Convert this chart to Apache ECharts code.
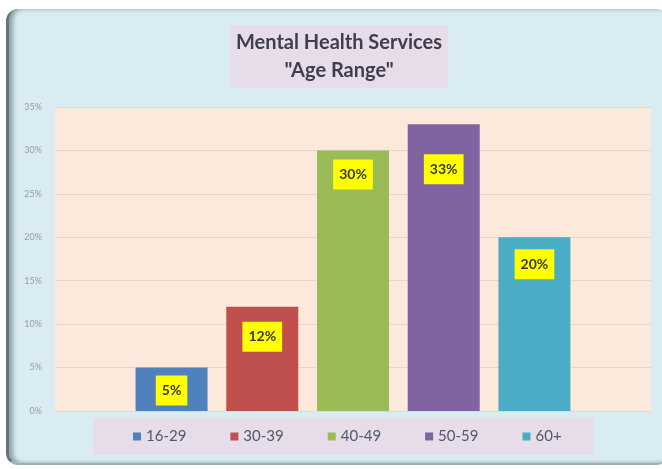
<!DOCTYPE html>
<html>
<head>
<meta charset="utf-8">
<script src="https://cdn.jsdelivr.net/npm/echarts@6/dist/echarts.min.js"></script>
<style>
  html, body { margin: 0; padding: 0; background: #ffffff; }
  #wrap { position: relative; width: 662px; height: 469px; overflow: hidden; background: #ffffff; }
  #frame {
    position: absolute; left: 6px; top: 9px; width: 662px; height: 456px;
    background: #d9ecf1; border-radius: 12px;
    border-left: 3px solid #62757c; border-bottom: 2px solid #9fb0b5;
    box-shadow: inset 4px 0 4px rgba(80,100,108,0.55);
    box-sizing: border-box;
  }
  #chart { position: absolute; left: 0; top: 0; width: 662px; height: 469px; }
</style>
</head>
<body>
<div id="wrap">
  <div id="frame"></div>
  <div id="chart"></div>
</div>
<script>
const titleLines = ['Mental Health Services', '"Age Range"'];
const categories = ['16-29', '30-39', '40-49', '50-59', '60+'];
const values = [5, 12, 30, 33, 20];
const yMin = 0, yMax = 35, yStep = 5;

const colors = ['#4f81bd', '#c0504d', '#9bbb59', '#8064a2', '#4bacc6'];
const labelDistances = [8, 15, 9, 30, 12];

const chart = echarts.init(document.getElementById('chart'), null, { renderer: 'canvas' });

const series = categories.map((name, i) => ({
  name: name,
  type: 'bar',
  data: [values[i]],
  barWidth: 72,
  barGap: '26%',
  itemStyle: { color: colors[i] },
  label: {
    show: true,
    position: 'insideTop',
    distance: labelDistances[i],
    formatter: '{c}%',
    backgroundColor: '#ffff00',
    padding: [8, 6, 8, 6],
    fontFamily: 'Lato',
    fontWeight: 'bold',
    fontSize: 14,
    color: '#3a3a2a'
  }
}));

chart.setOption({
  animation: false,
  backgroundColor: 'transparent',
  title: {
    text: titleLines.join('\n'),
    left: 333,
    top: 25,
    textAlign: 'center',
    backgroundColor: '#e7dcea',
    padding: [4, 6, 3, 6],
    textStyle: {
      fontFamily: 'Lato',
      fontWeight: 'bold',
      fontSize: 20,
      lineHeight: 28,
      color: '#3f3f4c'
    }
  },
  legend: {
    data: categories,
    left: 93,
    top: 418,
    backgroundColor: '#e6dcea',
    padding: [11, 32, 11, 40],
    itemWidth: 8,
    itemHeight: 8,
    itemGap: 44,
    icon: 'rect',
    textStyle: { fontFamily: 'Lato', fontSize: 15, color: '#525a66' }
  },
  grid: {
    left: 55, right: 11, top: 107, bottom: 58,
    show: true,
    backgroundColor: '#fde9dc',
    borderWidth: 0
  },
  xAxis: {
    type: 'category',
    data: [''],
    axisLine: { show: false },
    axisTick: { show: false },
    axisLabel: { show: false }
  },
  yAxis: {
    type: 'value',
    min: yMin, max: yMax, interval: yStep,
    axisLine: { show: false },
    axisTick: { show: false },
    axisLabel: {
      formatter: '{value}%',
      fontFamily: 'Lato',
      fontSize: 9,
      color: '#9a9a9a',
      margin: 13
    },
    splitLine: { lineStyle: { color: '#ead5c8', width: 1 } }
  },
  series: series
});
</script>
</body>
</html>
